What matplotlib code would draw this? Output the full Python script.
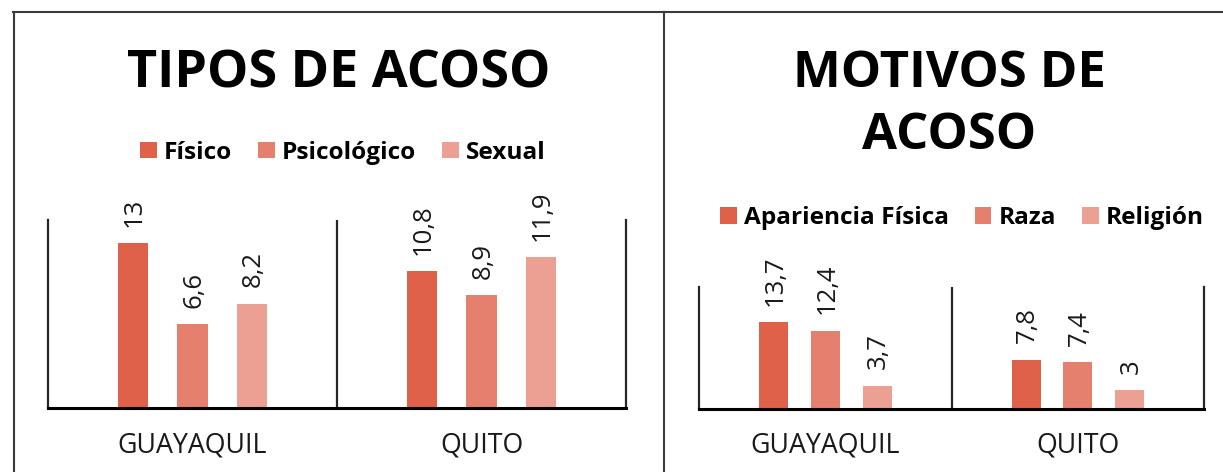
import matplotlib
matplotlib.use("Agg")
import matplotlib.pyplot as plt
from matplotlib.lines import Line2D
from matplotlib import transforms

plt.rcParams['font.family'] = ['Open Sans', 'DejaVu Sans']

# ---- data ----
categories = ['GUAYAQUIL', 'QUITO']

tipos_title = 'TIPOS DE ACOSO'
tipos_series = ['Físico', 'Psicológico', 'Sexual']
tipos_fisico = [13, 10.8]
tipos_psicologico = [6.6, 8.9]
tipos_sexual = [8.2, 11.9]

motivos_title = ['MOTIVOS DE', 'ACOSO']
motivos_series = ['Apariencia Física', 'Raza', 'Religión']
motivos_apariencia = [13.7, 7.8]
motivos_raza = [12.4, 7.4]
motivos_religion = [3.7, 3]

colors = ['#E0614A', '#E5806E', '#EBA093']

W, H = 1223, 472
fig = plt.figure(figsize=(W / 100, H / 100), dpi=100)


def fx(px):
    return px / W


def fy(py):
    return 1 - py / H


def fmt(v):
    return f"{v:g}".replace('.', ',')


def make_chart(box, ymax, series_vals, series_names, offset, width, label_y):
    x0, x1, ytop, ybot = box
    ax = fig.add_axes([fx(x0), fy(ybot), fx(x1 - x0), (ybot - ytop) / H])
    bars = []
    for i, vals in enumerate(series_vals):
        xs = [c + (i - 1) * offset for c in range(len(categories))]
        b = ax.bar(xs, vals, width=width, color=colors[i], label=series_names[i],
                   edgecolor='none', zorder=2)
        bars.append(b)
        for x, v in zip(xs, vals):
            ax.annotate(fmt(v), (x, v), xytext=(1, 12), textcoords='offset points',
                        rotation=90, ha='center', va='bottom', fontsize=18.5,
                        color='#1a1a1a', annotation_clip=False)
    ax.set_xlim(-0.5, len(categories) - 0.5)
    ax.set_ylim(0, ymax)
    ax.set_yticks([])
    ax.set_xticks([])
    ax.spines['top'].set_visible(False)
    ax.spines['bottom'].set_linewidth(2.2)
    ax.spines['bottom'].set_color('#000000')
    for s in ['left', 'right']:
        ax.spines[s].set_linewidth(1.6)
        ax.spines[s].set_color('#262626')
    for k in range(1, len(categories)):
        ax.axvline(k - 0.5, color='#262626', lw=1.6, zorder=1)
    tr = transforms.blended_transform_factory(ax.transData, fig.transFigure)
    for c, name in enumerate(categories):
        fig.text(c, fy(label_y), name, transform=tr, ha='center', va='baseline',
                 fontsize=19.3, color='#1a1a1a')
    return ax, bars


# left chart
axL, barsL = make_chart((48, 626, 220, 407.7), 14.85,
                        [tipos_fisico, tipos_psicologico, tipos_sexual],
                        tipos_series, 0.2067, 0.1055, 452.5)
# right chart
axR, barsR = make_chart((699.3, 1204, 287, 409.3), 19.3,
                        [motivos_apariencia, motivos_raza, motivos_religion],
                        motivos_series, 0.205, 0.115, 452.5)

# titles
fig.text(fx(339), fy(87.3), tipos_title, ha='center', va='baseline',
         fontsize=37.5, fontweight='bold', color='black')
fig.text(fx(949.3), fy(87.3), motivos_title[0], ha='center', va='baseline',
         fontsize=36.5, fontweight='bold', color='black')
fig.text(fx(949.3), fy(149.3), motivos_title[1], ha='center', va='baseline',
         fontsize=36.5, fontweight='bold', color='black')

# legends
leg_kw = dict(loc='center', ncol=3, frameon=False,
              prop=dict(weight='bold', size=17.6),
              handlelength=0.68, handleheight=0.68, handletextpad=0.3,
              columnspacing=1.05, borderaxespad=0, borderpad=0)
fig.legend(handles=barsL, labels=tipos_series,
           bbox_to_anchor=(fx(343), fy(152.5)), **leg_kw)
fig.legend(handles=barsR, labels=motivos_series,
           bbox_to_anchor=(fx(962), fy(218)), **leg_kw)

# frame lines
frame_kw = dict(color='#3a3a3a', lw=1.5, transform=fig.transFigure)
fig.add_artist(Line2D([fx(13), fx(1223)], [fy(12), fy(12)], **frame_kw))
fig.add_artist(Line2D([fx(13.5), fx(13.5)], [fy(12), fy(472)], **frame_kw))
fig.add_artist(Line2D([fx(664), fx(664)], [fy(12), fy(472)], **frame_kw))

fig.savefig('out.png', dpi=100)
